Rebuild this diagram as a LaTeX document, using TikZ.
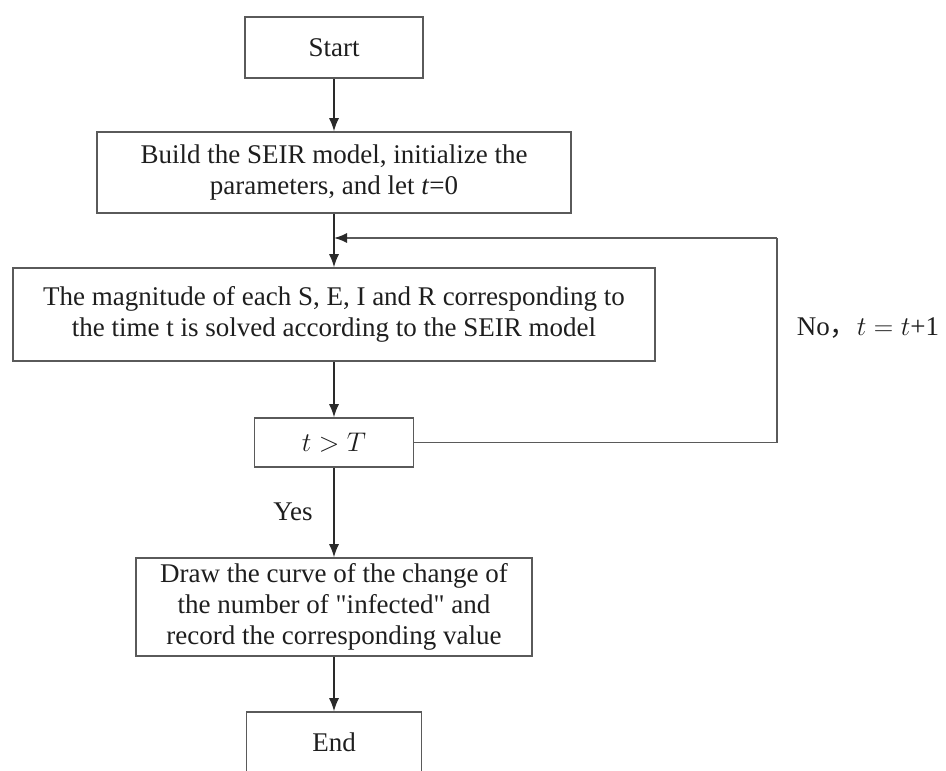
\RequirePackage{fix-cm}
\documentclass[tikz,border=0pt]{standalone}
\usepackage{fontspec}
\setmainfont{Liberation Serif}[Ligatures=TeXOff]
\newfontfamily\cjk{Noto Sans CJK SC}
\usetikzlibrary{arrows.meta}
\definecolor{boxgray}{HTML}{5A5A5A}
\definecolor{linegray}{HTML}{2A2A2A}
\definecolor{txt}{HTML}{1E1E1E}
\begin{document}
\begin{tikzpicture}[x=1pt,y=-1pt,
  every node/.style={text=txt, font=\fontsize{27}{31}\selectfont},
  box/.style={draw=boxgray, line width=1.6pt, inner sep=0pt, align=center},
  arr/.style={draw=linegray, line width=1.3pt, -{Latex[length=13pt,width=10pt,fill=linegray,color=linegray]}},
  ln/.style={draw=boxgray, line width=1.6pt}]
\useasboundingbox (0,0) rectangle (946,771);
\node[box, minimum width=178, minimum height=61] (start) at (334,47.5) {Start};
\node[box, minimum width=474, minimum height=81] (b2) at (334,172.5)
  {Build the SEIR model, initialize the\\parameters, and let \textit{t}=0};
\node[box, minimum width=642, minimum height=93] (b3) at (334,314.5)
  {The magnitude of each S, E, I and R corresponding to\\the time t is solved according to the SEIR model};
\node[box, minimum width=159, minimum height=49] (tt) at (334,442.5) {$t > T$};
\node[box, minimum width=396, minimum height=98] (b5) at (334,607)
  {Draw the curve of the change of\\the number of "infected" and\\record the corresponding value};
\node[box, minimum width=175, minimum height=61] (end) at (334,742.5) {End};
\node (yes) at (293,512) {Yes};
\node (no) at (868,328) {No{\cjk ，}$t = t$+1};
\coordinate (fb) at (334,238);
\coordinate (corner) at (777,238);
\draw[arr] (start) -- (b2);
\draw[arr] (b2) -- (b3);
\draw[arr] (b3) -- (tt);
\draw[arr] (tt) -- (b5);
\draw[arr] (b5) -- (end);
\draw[ln] (tt.east) -| (corner);
\draw[ln, -{Latex[length=13pt,width=10pt,fill=linegray,color=linegray]}] (corner) -- (fb);
\end{tikzpicture}
\end{document}
